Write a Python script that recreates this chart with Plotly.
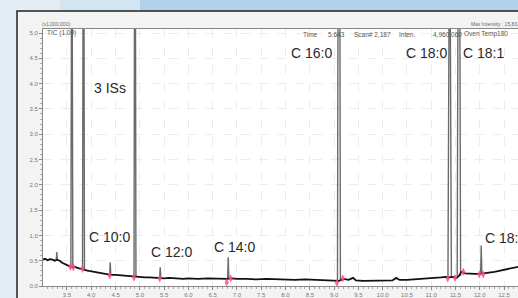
import plotly.graph_objects as go

# ---------------- data ----------------
baseline_time = [3.00, 3.05, 3.10, 3.15, 3.20, 3.25, 3.29, 3.35, 3.40, 3.45, 3.50, 3.55, 3.60, 3.65,
                 3.70, 3.75, 3.80, 3.85, 3.90, 3.95, 4.00, 4.10, 4.20, 4.30, 4.40, 4.50, 4.60, 4.70,
                 4.80, 4.90, 5.00, 5.10, 5.20, 5.30, 5.40, 5.50, 5.60, 5.70, 5.80, 5.90, 6.00, 6.20,
                 6.40, 6.60, 6.80, 6.90, 7.00, 7.20, 7.40, 7.60, 7.80, 8.00, 8.20, 8.40, 8.60, 8.80,
                 9.00, 9.10, 9.20, 9.30, 9.39, 9.45, 9.60, 9.80, 10.00, 10.20, 10.28, 10.35, 10.50,
                 10.70, 10.90, 11.00, 11.10, 11.20, 11.30, 11.38, 11.46, 11.52, 11.57, 11.62, 11.70,
                 11.80, 11.90, 12.00, 12.10, 12.20, 12.30, 12.40, 12.50, 12.60, 12.70, 12.79]
baseline_value = [0.52, 0.54, 0.51, 0.53, 0.52, 0.50, 0.52, 0.50, 0.46, 0.44, 0.42, 0.40, 0.37, 0.38,
                  0.36, 0.35, 0.34, 0.32, 0.31, 0.30, 0.29, 0.27, 0.26, 0.24, 0.22, 0.22, 0.21, 0.20,
                  0.19, 0.18, 0.18, 0.17, 0.17, 0.16, 0.16, 0.15, 0.16, 0.15, 0.15, 0.14, 0.15, 0.14,
                  0.15, 0.14, 0.14, 0.15, 0.14, 0.14, 0.13, 0.14, 0.13, 0.13, 0.12, 0.13, 0.12, 0.12,
                  0.11, 0.10, 0.14, 0.12, 0.16, 0.11, 0.10, 0.10, 0.11, 0.11, 0.16, 0.12, 0.12,
                  0.13, 0.15, 0.15, 0.16, 0.17, 0.18, 0.17, 0.18, 0.16, 0.20, 0.28, 0.25,
                  0.24, 0.24, 0.24, 0.25, 0.26, 0.28, 0.30, 0.32, 0.33, 0.36, 0.38]

peak_time = [3.29, 3.60, 3.84, 4.39, 4.90, 5.42, 6.82, 9.10, 11.38, 11.57, 12.03]
peak_apex = [0.67, 9.0, 10.5, 0.47, 11.0, 0.37, 0.57, 15.8, 8.5, 12.0, 0.80]
peak_base = [0.52, 0.37, 0.33, 0.22, 0.18, 0.16, 0.14, 0.10, 0.17, 0.20, 0.24]
peak_halfwidth = [0.010, 0.020, 0.020, 0.012, 0.020, 0.012, 0.012, 0.030, 0.035, 0.035, 0.012]

marker_time = [3.57, 3.63, 3.82, 4.38, 4.88, 5.41, 6.79, 6.87, 9.06, 9.18, 11.34, 11.49, 11.66, 11.99, 12.07]
marker_value = [0.38, 0.37, 0.34, 0.21, 0.17, 0.15, 0.07, 0.15, 0.06, 0.15, 0.15, 0.16, 0.28, 0.23, 0.23]

peak_labels = ["3 ISs", "C 10:0", "C 12:0", "C 14:0", "C 16:0", "C 18:0", "C 18:1", "C 18:2"]
label_time = [4.386, 4.375, 5.662, 6.939, 8.525, 10.893, 12.067, 12.073]
label_value = [3.91, 0.974, 0.678, 0.771, 4.60, 4.60, 4.60, 0.955]
label_anchor = ["center", "center", "center", "center", "center", "center", "center", "left"]

x_ticks = [3.5, 4.0, 4.5, 5.0, 5.5, 6.0, 6.5, 7.0, 7.5, 8.0, 8.5, 9.0, 9.5, 10.0, 10.5, 11.0, 11.5, 12.0, 12.5]
y_ticks = [0.0, 0.5, 1.0, 1.5, 2.0, 2.5, 3.0, 3.5, 4.0, 4.5, 5.0]

# ---------------- figure ----------------
W, H = 518, 298
ML, MR, MT, MB = 43, 0, 29, 12
PW, PH = W - ML - MR, H - MT - MB


def px(x):
    return (x - ML) / PW


def py(y):
    return (H - MB - y) / PH


peak_x, peak_y = [], []
for t, a, b, w in zip(peak_time, peak_apex, peak_base, peak_halfwidth):
    peak_x += [t - w, t, t + w, None]
    peak_y += [b, a, b, None]

fig = go.Figure()
fig.add_trace(go.Scatter(x=peak_x, y=peak_y, mode="lines",
                         line=dict(color="#6a6a6a", width=1.4), hoverinfo="skip"))
fig.add_trace(go.Scatter(x=baseline_time, y=baseline_value, mode="lines",
                         line=dict(color="#111111", width=1.8), hoverinfo="skip"))
fig.add_trace(go.Scatter(x=marker_time, y=marker_value, mode="markers",
                         marker=dict(symbol="diamond-tall", size=6, color="rgba(255,80,130,0.85)"),
                         hoverinfo="skip"))

shapes = [
    # top light-blue band of the slide
    dict(type="rect", xref="paper", yref="paper", x0=px(60), x1=px(140), y0=py(11), y1=py(0),
         fillcolor="#d3e5f3", line=dict(width=0), layer="below"),
    dict(type="rect", xref="paper", yref="paper", x0=px(140), x1=px(530), y0=py(11), y1=py(0),
         fillcolor="#b2d1ea", line=dict(width=0), layer="below"),
    # instrument panel
    dict(type="rect", xref="paper", yref="paper", x0=px(17), x1=px(540), y0=py(310), y1=py(11),
         fillcolor="#f3f3f3", line=dict(color="#222222", width=1.5), layer="below"),
    # white plotting area
    dict(type="rect", xref="paper", yref="paper", x0=0, x1=1.01, y0=0, y1=1,
         fillcolor="white", line=dict(width=0), layer="below"),
]

annotations = []
for txt, t, v, anc in zip(peak_labels, label_time, label_value, label_anchor):
    annotations.append(dict(text=txt, x=t, y=v, xref="x", yref="y", xanchor=anc, yanchor="middle",
                            showarrow=False,
                            font=dict(family="Liberation Sans, Arial, sans-serif", size=14, color="#2a2a2a")))

small = dict(family="Liberation Sans, Arial, sans-serif", size=6.5, color="#555555")
tiny = dict(family="Liberation Sans, Arial, sans-serif", size=5, color="#666666")
header = [
    ("(x1,000,000)", 40, 24, "left", tiny),
    ("TIC (1.00)", 45, 33, "left", small),
    ("Time", 310, 34, "center", small),
    ("5.643", 336, 34, "center", small),
    ("Scan# 2,187", 372, 34, "center", small),
    ("Inten.", 407, 34, "center", small),
    ("4,960,060", 447, 34, "center", small),
    ("Oven Temp180", 462, 34, "left", small),
    ("Max Intensity : 15,832,", 469, 24, "left", tiny),
]
for txt, x, y, anc, f in header:
    annotations.append(dict(text=txt, x=px(x), y=py(y), xref="paper", yref="paper",
                            xanchor=anc, yanchor="middle", showarrow=False, font=f))

fig.update_layout(
    width=W, height=H,
    margin=dict(l=ML, r=MR, t=MT, b=MB, pad=0),
    paper_bgcolor="#e2edf6",
    plot_bgcolor="white",
    showlegend=False,
    shapes=shapes,
    annotations=annotations,
    xaxis=dict(range=[3.006, 12.787], tickvals=x_ticks, ticktext=[f"{v:.1f}" for v in x_ticks],
               ticks="outside", ticklen=3, tickcolor="#888", showline=True, linecolor="#888",
               linewidth=1, mirror=True, showgrid=True, gridcolor="#ececec", griddash="dash",
               zeroline=False, tickfont=dict(size=6, color="#777", family="Liberation Sans, Arial"),
               minor=dict(dtick=0.1, ticks="outside", ticklen=2, tickcolor="#aaa", showgrid=False),
               fixedrange=True),
    yaxis=dict(range=[0, PH / 50.6], tickvals=y_ticks, ticktext=[f"{v:.1f}" for v in y_ticks],
               ticks="outside", ticklen=3, tickcolor="#888", showline=True, linecolor="#888",
               linewidth=1, showgrid=True, gridcolor="#ececec", griddash="dash",
               zeroline=False, tickfont=dict(size=6, color="#777", family="Liberation Sans, Arial"),
               minor=dict(dtick=0.1, ticks="outside", ticklen=2, tickcolor="#aaa", showgrid=False),
               fixedrange=True),
)

fig.write_html("out.html", config={"displayModeBar": False},
               post_script="document.body.style.margin='0';document.body.style.overflow='hidden';")
